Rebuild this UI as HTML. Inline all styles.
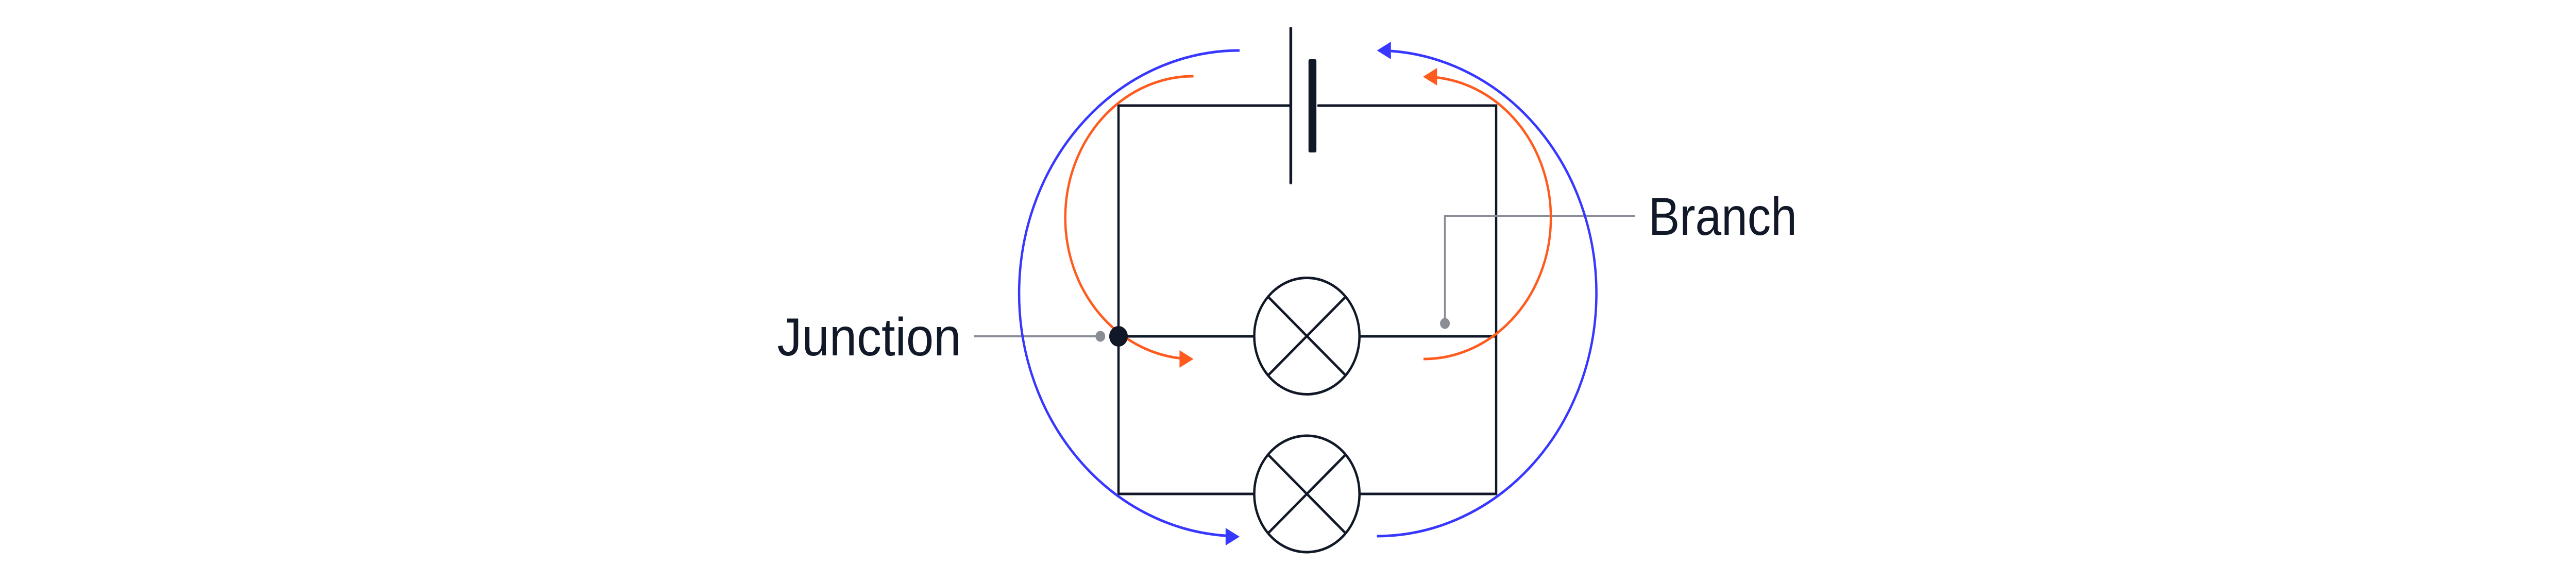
<!DOCTYPE html>
<html>
<head>
<meta charset="utf-8">
<style>
  html, body { margin: 0; padding: 0; background: #ffffff; width: 100%; height: 100%; overflow: hidden; }
  svg { display: block; position: absolute; left: 0; top: 0; width: 100vw; height: 100vh; }
  text { font-family: "Liberation Sans", "DejaVu Sans", sans-serif; fill: #111827; }
</style>
</head>
<body>
<svg viewBox="0 0 5532 1130" preserveAspectRatio="none" xmlns="http://www.w3.org/2000/svg">
  <rect x="0" y="0" width="5532" height="1130" fill="#ffffff"/>

  <!-- Circuit wires -->
  <g fill="none" stroke="#111827" stroke-width="5" stroke-linejoin="miter">
    <path d="M 2772 205 L 2402 205 L 2402 959 L 2693 959"/>
    <path d="M 2831 205 L 3213 205 L 3213 959 L 2920 959"/>
    <line x1="2402" y1="653" x2="2693" y2="653"/>
    <line x1="2920" y1="653" x2="3213" y2="653"/>
  </g>
  <line x1="2831" y1="205" x2="2840" y2="205" stroke="#111827" stroke-width="5" stroke-linecap="round"/>

  <!-- Battery -->
  <line x1="2772" y1="55" x2="2772" y2="355" stroke="#111827" stroke-width="6" stroke-linecap="round"/>
  <rect x="2810" y="115" width="17" height="181" rx="3" ry="3" fill="#111827"/>

  <!-- Lamp 1 -->
  <g fill="none" stroke="#111827" stroke-width="5">
    <circle cx="2806.5" cy="652.5" r="113"/>
    <line x1="2722.5" y1="575.5" x2="2890.5" y2="729.5"/>
    <line x1="2890.5" y1="575.5" x2="2722.5" y2="729.5"/>
  </g>
  <!-- Lamp 2 -->
  <g fill="none" stroke="#111827" stroke-width="5">
    <circle cx="2806.5" cy="959" r="113"/>
    <line x1="2722.5" y1="882" x2="2890.5" y2="1036"/>
    <line x1="2890.5" y1="882" x2="2722.5" y2="1036"/>
  </g>

  <!-- Leaders -->
  <g stroke="#8a8d96" stroke-width="4" fill="none">
    <line x1="2092" y1="653" x2="2363" y2="653"/>
    <path d="M 3511 419 L 3103 419 L 3103 628"/>
  </g>
  <circle cx="2363" cy="653" r="10.5" fill="#8a8d96"/>
  <circle cx="3103" cy="628" r="10.5" fill="#8a8d96"/>

  <!-- Current arcs: blue -->
  <g fill="none" stroke="#3737ff" stroke-width="5">
    <path d="M 2662 98 A 473 471.5 0 0 0 2634 1040.2"/>
    <path d="M 2957 1041 A 472 471.5 0 0 0 2987 99"/>
  </g>
  <polygon points="2662,1042 2632,1025 2632,1059" fill="#3737ff"/>
  <polygon points="2957,98 2987,81 2987,115" fill="#3737ff"/>

  <!-- Current arcs: orange -->
  <g fill="none" stroke="#ff5b1f" stroke-width="5">
    <path d="M 2563 148 A 275 274.5 0 0 0 2534 695.5"/>
    <path d="M 3057 697 A 273 274 0 0 0 3086 150.5"/>
  </g>
  <polygon points="2563,697 2533,680 2533,714" fill="#ff5b1f"/>
  <polygon points="3056,149 3086,132 3086,166" fill="#ff5b1f"/>

  <!-- Junction dot -->
  <circle cx="2402" cy="653" r="20" fill="#111827"/>

  <!-- Labels -->
  <text x="1669" y="690" font-size="104" textLength="395" lengthAdjust="spacingAndGlyphs">Junction</text>
  <text x="3540" y="456" font-size="104" textLength="319" lengthAdjust="spacingAndGlyphs">Branch</text>
</svg>
</body>
</html>
